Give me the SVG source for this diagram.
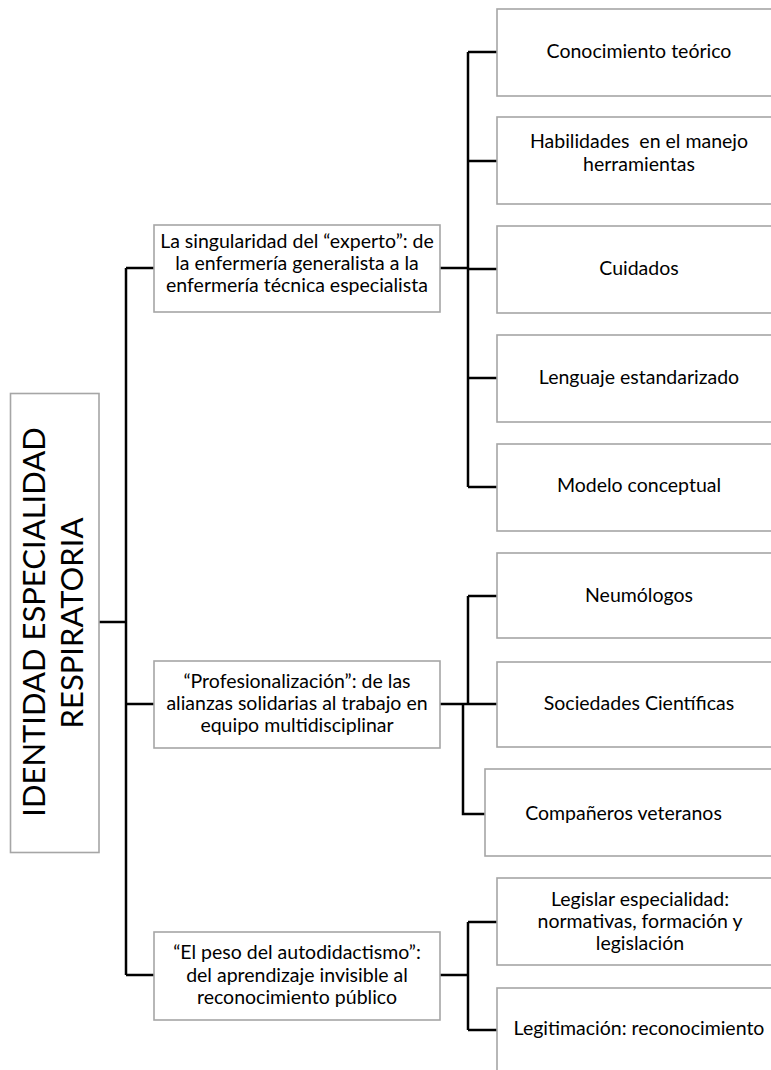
<svg xmlns="http://www.w3.org/2000/svg" width="771" height="1070" viewBox="0 0 771 1070">
<style>
.box{fill:#fff;stroke:#a6a6a6;stroke-width:1.6}
.t{font-family:Lato,"Open Sans","Liberation Sans",sans-serif;font-size:19.5px;fill:#000;text-anchor:middle}
.root{font-family:Lato,"Open Sans","Liberation Sans",sans-serif;font-size:31px;fill:#000;text-anchor:middle}
.c{fill:none;stroke:#000;stroke-width:2.5}
</style>
<rect width="771" height="1070" fill="#fff"/>
<g id="connectors">
<path class="c" d="M99,622 H126 M126,268 V975 M126,268 H154 M126,704 H154 M126,975 H154"/>
<path class="c" d="M440,268 H468 M468,52 V487 M468,52 H497 M468,161 H497 M468,269 H497 M468,378 H497 M468,487 H497"/>
<path class="c" d="M440,704 H468 M468,596 V704 M468,596 H497 M468,704 H497 M463,704 V814 H485"/>
<path class="c" d="M440,975 H468 M468,922 V1030 M468,922 H497 M468,1030 H497"/>
</g>
<g id="root">
<rect class="box" x="10.5" y="393.5" width="88.5" height="459"/>
<text class="root" transform="translate(45,622) rotate(-90)">IDENTIDAD ESPECIALIDAD</text>
<text class="root" transform="translate(83,623) rotate(-90)">RESPIRATORIA</text>
</g>
<g id="m1">
<rect class="box" x="154" y="225" width="286" height="87"/>
<text class="t" x="297" y="248">La singularidad del “experto”: de</text>
<text class="t" x="297" y="270">la enfermería generalista a la</text>
<text class="t" x="297" y="292">enfermería técnica especialista</text>
</g>
<g id="m2">
<rect class="box" x="154" y="661" width="286" height="87"/>
<text class="t" x="297" y="688">“Profesionalización”: de las</text>
<text class="t" x="297" y="710">alianzas solidarias al trabajo en</text>
<text class="t" x="297" y="732">equipo multidisciplinar</text>
</g>
<g id="m3">
<rect class="box" x="154" y="932" width="286" height="88"/>
<text class="t" x="297" y="959">“El peso del autodidactismo”:</text>
<text class="t" x="297" y="981.5">del aprendizaje invisible al</text>
<text class="t" x="297" y="1004">reconocimiento público</text>
</g>
<g id="r1">
<rect class="box" x="497" y="9" width="290" height="87"/>
<text class="t" x="639" y="58">Conocimiento teórico</text>
</g>
<g id="r2">
<rect class="box" x="497" y="117" width="290" height="87"/>
<text class="t" x="639" y="148" xml:space="preserve">Habilidades  en el manejo</text>
<text class="t" x="639" y="171">herramientas</text>
</g>
<g id="r3">
<rect class="box" x="497" y="226" width="290" height="87"/>
<text class="t" x="639" y="275">Cuidados</text>
</g>
<g id="r4">
<rect class="box" x="497" y="335" width="290" height="87"/>
<text class="t" x="639" y="384">Lenguaje estandarizado</text>
</g>
<g id="r5">
<rect class="box" x="497" y="444" width="290" height="87"/>
<text class="t" x="639" y="492">Modelo conceptual</text>
</g>
<g id="r6">
<rect class="box" x="497" y="553" width="290" height="85"/>
<text class="t" x="639" y="602">Neumólogos</text>
</g>
<g id="r7">
<rect class="box" x="497" y="662" width="290" height="85"/>
<text class="t" x="639" y="710">Sociedades Científicas</text>
</g>
<g id="r8">
<rect class="box" x="485" y="769" width="300" height="87"/>
<text class="t" x="623.5" y="820">Compañeros veteranos</text>
</g>
<g id="r9">
<rect class="box" x="497" y="878" width="290" height="87"/>
<text class="t" x="640" y="906">Legislar especialidad:</text>
<text class="t" x="640" y="928">normativas, formación y</text>
<text class="t" x="640" y="950">legislación</text>
</g>
<g id="r10">
<rect class="box" x="497" y="988" width="290" height="100"/>
<text class="t" x="639" y="1035">Legitimación: reconocimiento</text>
</g>
</svg>
